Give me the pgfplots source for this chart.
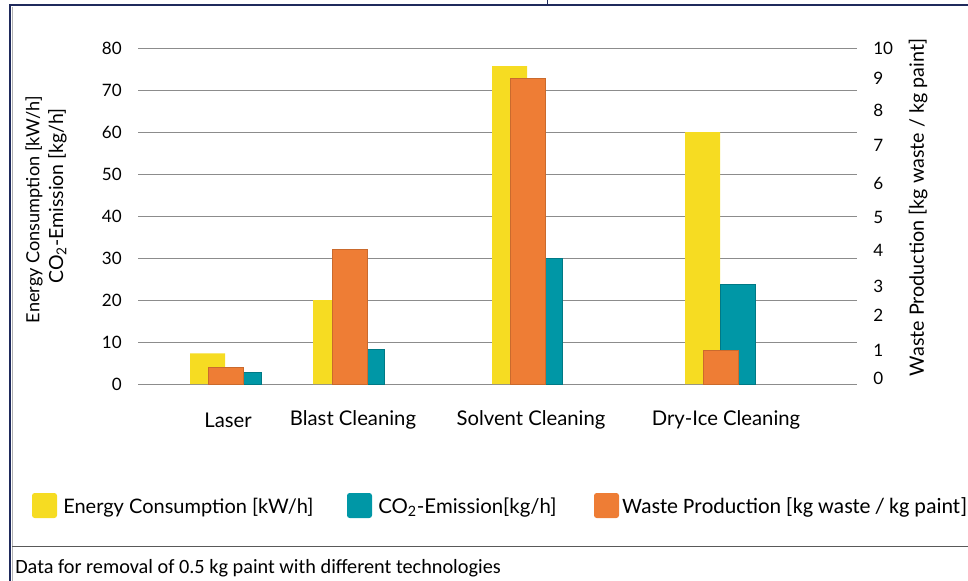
\documentclass[border=0pt]{standalone}
\usepackage{fontspec}
\setmainfont{Lato}
\newfontfamily\calfont{Carlito}
\usepackage{pgfplots}
\pgfplotsset{compat=1.18}
\definecolor{cyel}{HTML}{F6DC22}
\definecolor{cora}{HTML}{EE7D35}
\definecolor{ctea}{HTML}{0097A6}
\definecolor{navy}{HTML}{1F2A5C}
\definecolor{gridc}{HTML}{8C8C8C}
\begin{document}
\begin{tikzpicture}
\begin{scope}[x=0.75pt,y=-0.75pt]
\path[use as bounding box] (0,0) rectangle (968,581);
\draw[navy, line width=1.5pt] (9.5,581) -- (9.5,5.5) -- (968,5.5);
\draw[navy, line width=0.75pt] (547,0) -- (547,5.5);
\draw[black!30, line width=0.6pt] (12.5,581) -- (12.5,7);
\draw[black!65, line width=0.75pt] (12,546) -- (968,546);
% left y label (two lines)
\node[rotate=90, anchor=south east, inner sep=0pt, font=\fontsize{13.6pt}{16pt}\selectfont] at (43,96) {Energy Consumption [kW/h]};
\node[rotate=90, anchor=south east, inner sep=0pt, font=\fontsize{14.6pt}{16pt}\selectfont] at (67,108) {CO\textsubscript{2}-Emission [kg/h]};
% right y label
\node[rotate=90, anchor=center, inner sep=0pt, font=\fontsize{14.8pt}{16pt}\selectfont] at (918,207.5) {Waste Production [kg waste / kg paint]};
% category labels
\foreach \xx/\lab in {228/Laser, 353/Blast Cleaning, 531/Solvent Cleaning, 726/Dry-Ice Cleaning}
  \node[anchor=center, inner sep=0pt, font=\fontsize{15.2pt}{18pt}\selectfont] at (\xx,420) {\lab};
% legend
\fill[cyel, rounded corners=2pt] (32,493) rectangle (57,518);
\node[anchor=base west, inner sep=0pt, font=\fontsize{15pt}{18pt}\selectfont] at (63,513) {Energy Consumption [kW/h]};
\fill[ctea, rounded corners=2pt] (347,493) rectangle (372,518);
\node[anchor=base west, inner sep=0pt, font=\fontsize{15.3pt}{18pt}\selectfont] at (378,513) {CO\textsubscript{2}-Emission[kg/h]};
\fill[cora, rounded corners=2pt] (594,493) rectangle (619,518);
\node[anchor=base west, inner sep=0pt, font=\calfont\fontsize{16.5pt}{18pt}\selectfont] at (622,513) {Waste Production [kg waste / kg paint]};
% caption
\node[anchor=base west, inner sep=0pt, font=\calfont\fontsize{15.2pt}{16pt}\selectfont] at (15,573) {Data for removal of 0.5 kg paint with different technologies};
\end{scope}

\begin{axis}[
  at={(103.5pt,-288pt)}, anchor=south west,
  scale only axis, width=539.25pt, height=252pt,
  xmin=138, xmax=857, ymin=0, ymax=80,
  xtick=\empty, ytick={0,10,...,80},
  axis line style={draw=none}, tick style={draw=none},
  ymajorgrids, grid style={gridc, line width=0.75pt},
  /pgf/number format/assume math mode=true,
  yticklabel style={font=\fontsize{12.8pt}{14pt}\selectfont, inner sep=0pt, xshift=-12pt},
  clip=false,
]
\addplot[ybar, bar width=35, bar shift=0pt, fill=cyel, draw=none]
  coordinates {(207.5,7.3) (330.5,20) (509.5,75.7) (702.5,60)};
\addplot[ybar, bar width=35, bar shift=0pt, fill=ctea, draw=ctea!80!black, line width=0.3pt]
  coordinates {(243.5,2.8) (366.5,8.3) (545,30) (737.5,23.8)};
\end{axis}

\begin{axis}[
  at={(103.5pt,-288pt)}, anchor=south west,
  scale only axis, width=539.25pt, height=252pt,
  xmin=138, xmax=857, ymin=0, ymax=10,
  xtick=\empty,
  ytick={0.18,1.01,2.05,2.92,3.99,4.97,5.98,7.11,8.13,9.11,10},
  yticklabels={0,1,2,3,4,5,6,7,8,9,10},
  yticklabel pos=right,
  axis line style={draw=none}, tick style={draw=none},
  /pgf/number format/assume math mode=true,
  yticklabel style={font=\fontsize{12.8pt}{14pt}\selectfont, inner sep=0pt, anchor=west, xshift=12pt},
  clip=false,
]
\addplot[ybar, bar width=35, bar shift=0pt, fill=cora, draw=cora!85!black, line width=0.3pt]
  coordinates {(225.5,0.5) (349.5,4) (527.5,9.1) (720.5,1)};
\end{axis}
\end{tikzpicture}
\end{document}
